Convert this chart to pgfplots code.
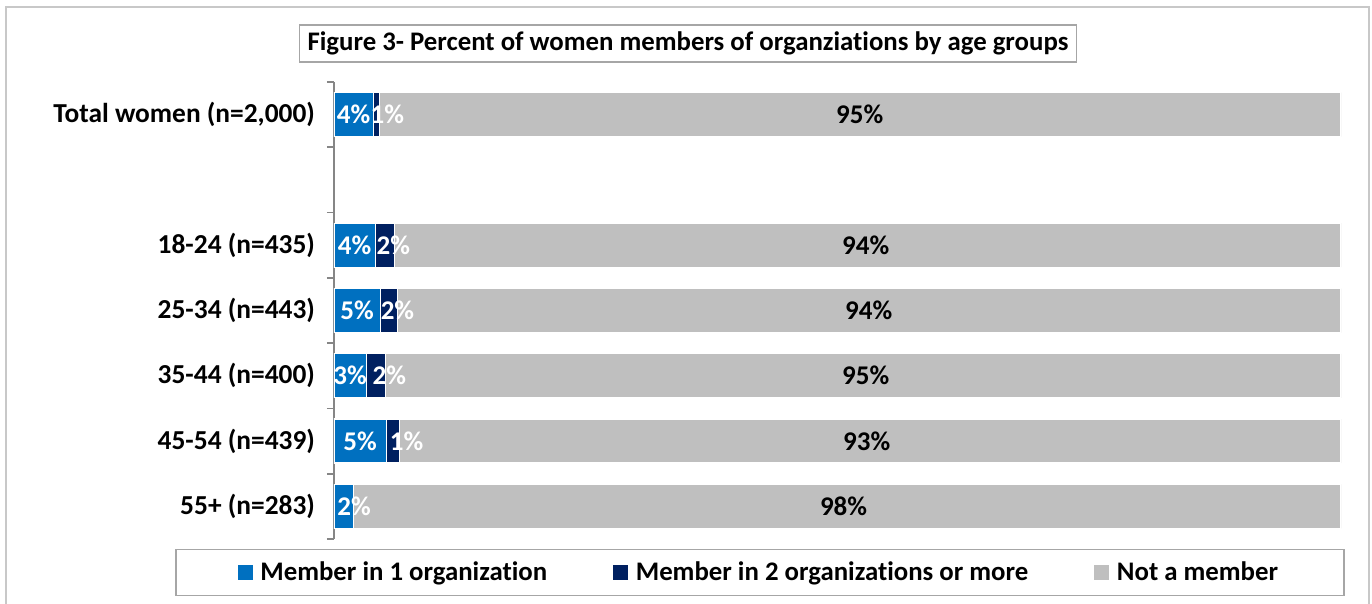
\documentclass[border=0pt]{standalone}
\usepackage{fontspec}
\setmainfont{Carlito}[Ligatures={NoCommon}]
\usepackage{pgfplots}
\usepackage{pgfplotstable}
\pgfplotsset{compat=1.18}
\definecolor{cblue}{HTML}{0070C0}
\definecolor{cnavy}{HTML}{002060}
\definecolor{cgrey}{HTML}{BFBFBF}
\definecolor{cframe}{HTML}{C8C8C8}
\definecolor{boxc}{HTML}{A6A6A6}
\definecolor{axc}{HTML}{868686}
\newcommand\titlefont{\fontsize{13.4}{15}\selectfont\bfseries}
\newcommand\catfont{\fontsize{13.7}{15}\selectfont\bfseries}
\newcommand\datafont{\fontsize{13.5}{15}\selectfont\bfseries}
\newcommand\legfont{\fontsize{13.4}{15}\selectfont\bfseries}

\pgfplotstableread{
y blue navy grey
6 3.9 0.6 95.5
4 4.1 1.9 94.0
3 4.6 1.7 93.7
2 3.2 1.9 94.9
1 5.2 1.3 93.5
0 1.9 0.0 98.1
}\bars

\pgfplotstableread{
x y v
1.95 6 4
5.3 6 1
2.05 4 4
5.9 4 2
2.3 3 5
6.3 3 2
1.6 2 3
5.5 2 2
2.6 1 5
7.2 1 1
2.0 0 2
}\whitelabels

\pgfplotstableread{
x y v
52.2 6 95
52.8 4 94
53.1 3 94
52.8 2 95
52.9 1 93
50.6 0 98
}\blacklabels

\begin{document}
\begin{tikzpicture}[x=1pt,y=1pt]
\useasboundingbox (0,0) rectangle (686,302);
\draw[cframe, line width=1pt] (3,-5) rectangle (684.5,298.5);
\node[draw=boxc, line width=0.8pt, minimum width=388.5pt, minimum height=18.5pt, inner sep=0pt, font=\titlefont] at (344,280.25) {Figure 3- Percent of women members of organziations by age groups};
\begin{axis}[
  at={(167pt,32.5pt)}, anchor=south west,
  scale only axis, width=503.5pt, height=228.5pt,
  xbar stacked, bar width=22pt,
  xmin=0, xmax=100, ymin=-0.5, ymax=6.5,
  axis x line=none, axis y line*=left,
  y axis line style={axc, line width=0.8pt},
  ytick={0,...,6},
  yticklabels={55+ (n=283),45-54 (n=439),35-44 (n=400),25-34 (n=443),18-24 (n=435),{},{Total women (n=2,000)}},
  major tick length=0pt,
  extra y ticks={-0.5,0.5,...,6.5},
  extra y tick labels={},
  extra y tick style={major tick length=3.5pt, tick style={axc, line width=0.8pt}},
  tick align=outside,
  yticklabel style={font=\catfont, xshift=-6pt},
  legend columns=3,
  legend cell align=left,
  legend style={at={(0.423,-0.0733)}, anchor=center, draw=boxc, line width=0.8pt, font=\legfont,
    inner xsep=31pt, inner ysep=4pt,
    /tikz/every even column/.append style={column sep=31pt}},
  legend image code/.code={\path[#1,draw=none] (0pt,-3.7pt) rectangle (7.4pt,3.7pt); \path (9pt,0pt);},
]
\addplot[fill=cblue, draw=white, line width=0.6pt] table[x=blue, y=y] {\bars};
\addlegendentry{Member in 1 organization}
\addplot[fill=cnavy, draw=white, line width=0.6pt] table[x=navy, y=y] {\bars};
\addlegendentry{Member in 2 organizations or more}
\addplot[fill=cgrey, draw=white, line width=0.6pt] table[x=grey, y=y] {\bars};
\addlegendentry{Not a member}
\end{axis}
\begin{axis}[
  at={(167pt,32.5pt)}, anchor=south west,
  scale only axis, width=503.5pt, height=228.5pt,
  xmin=0, xmax=100, ymin=-0.5, ymax=6.5, hide axis,
]
\addplot[draw=none, mark=none, point meta=explicit,
  nodes near coords={\pgfmathprintnumber[fixed,precision=0,assume math mode=true]{\pgfplotspointmeta}\%},
  every node near coord/.style={anchor=center, font=\datafont, text=white, inner sep=0pt}]
  table[x=x, y=y, meta=v] {\whitelabels};
\addplot[draw=none, mark=none, point meta=explicit,
  nodes near coords={\pgfmathprintnumber[fixed,precision=0,assume math mode=true]{\pgfplotspointmeta}\%},
  every node near coord/.style={anchor=center, font=\datafont, text=black, inner sep=0pt}]
  table[x=x, y=y, meta=v] {\blacklabels};
\end{axis}
\end{tikzpicture}
\end{document}
